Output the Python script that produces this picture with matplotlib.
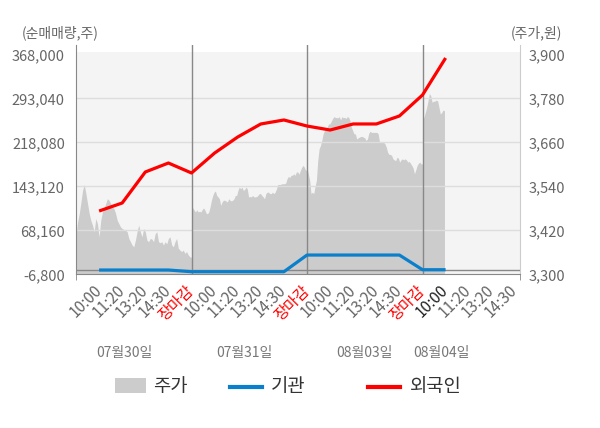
import numpy as np
import matplotlib
matplotlib.use("Agg")
import matplotlib.pyplot as plt
from matplotlib.patches import Rectangle
from matplotlib.lines import Line2D

plt.rcParams['font.family'] = ['Noto Sans CJK KR', 'DejaVu Sans']

# ---------------- data ----------------
day_labels = ['07월30일', '07월31일', '08월03일', '08월04일']
day_label_pos = [2.1, 7.3, 12.5, 15.8]
tick_times = ['10:00', '11:20', '13:20', '14:30', '장마감']

left_ticks = [-6800, 68160, 143120, 218080, 293040, 368000]
right_ticks = [3300, 3420, 3540, 3660, 3780, 3900]

# price (주가), minute-ish samples per day
price_d1 = [3407, 3443, 3466, 3497, 3529, 3545, 3520, 3493, 3466, 3447, 3434, 3416, 3452, 3438, 3402,
            3447, 3470, 3479, 3493, 3506, 3502, 3493, 3484, 3479, 3466, 3447, 3438, 3429, 3425, 3422,
            3420, 3416, 3398, 3389, 3380, 3375, 3393, 3416, 3434, 3416, 3402, 3425, 3416, 3393, 3389,
            3398, 3396, 3389, 3411, 3416, 3389, 3386, 3389, 3380, 3389, 3383, 3398, 3402, 3380, 3375,
            3389, 3398, 3371, 3366, 3362, 3366, 3357, 3362, 3353, 3348, 3346]
price_d2 = [3485, 3481, 3475, 3470, 3476, 3470, 3472, 3470, 3476, 3481, 3476, 3467, 3465, 3470, 3484,
            3502, 3515, 3524, 3527, 3515, 3511, 3506, 3488, 3497, 3502, 3502, 3500, 3497, 3506, 3502,
            3500, 3502, 3506, 3515, 3515, 3529, 3538, 3533, 3538, 3529, 3531, 3538, 3533, 3511, 3512,
            3511, 3515, 3511, 3511, 3512, 3515, 3520, 3520, 3515, 3511, 3506, 3520, 3524, 3524, 3520,
            3520, 3524, 3520, 3524, 3533, 3545, 3545, 3545, 3547, 3547, 3547, 3549, 3561, 3567, 3564,
            3570, 3570, 3574, 3570, 3579, 3579, 3573, 3583, 3592, 3597, 3592, 3583, 3588]
price_d3 = [3588, 3574, 3556, 3520, 3524, 3520, 3540, 3556, 3610, 3642, 3651, 3665, 3683, 3692, 3696,
            3701, 3710, 3710, 3717, 3724, 3730, 3728, 3727, 3727, 3730, 3721, 3730, 3727, 3728, 3725,
            3730, 3728, 3719, 3701, 3692, 3683, 3683, 3669, 3672, 3674, 3676, 3676, 3674, 3672, 3665,
            3669, 3685, 3690, 3687, 3687, 3687, 3687, 3687, 3683, 3660, 3660, 3660, 3660, 3656, 3647,
            3633, 3627, 3627, 3624, 3615, 3612, 3610, 3619, 3617, 3606, 3612, 3615, 3612, 3615, 3612,
            3606, 3608, 3603, 3597, 3590, 3574, 3585, 3597, 3603, 3606, 3601, 3601]
price_d4 = [3724, 3728, 3741, 3755, 3773, 3793, 3787, 3769, 3772, 3772, 3775, 3773, 3755, 3737, 3741,
            3748, 3746]

# cumulative net buying (순매매량)
foreign = [101000, 114700, 167500, 182800, 165800, 199800, 227100, 249300, 256100, 245800,
           239000, 249300, 249300, 262900, 298700, 361700]
institution = [500, 500, 500, 500, -2400, -2400, -2400, -2400, -2400, 26000,
               26000, 26000, 26000, 26000, 1000, 1000]

# ---------------- layout ----------------
W, H = 600, 428
fig = plt.figure(figsize=(6, 4.28), dpi=100)
ax_left, ax_right_px, ax_bot, ax_top = 76, 520, 274.3, 45
ax = fig.add_axes([ax_left / W, 1 - ax_bot / H, (ax_right_px - ax_left) / W, (ax_bot - ax_top) / H])
ax2 = ax.twinx()
ax.set_zorder(2)
ax2.set_zorder(1)
ax.patch.set_visible(False)

xmax = 19.22
ax.set_xlim(0, xmax)

step_l = (left_ticks[-1] - left_ticks[0]) / 220.0
ytop = left_ticks[0] + (ax_bot - ax_top) * step_l
ax.set_ylim(left_ticks[0], ytop)
r_scale = (right_ticks[-1] - right_ticks[0]) / (left_ticks[-1] - left_ticks[0])
ax2.set_ylim(right_ticks[0], right_ticks[0] + (ytop - left_ticks[0]) * r_scale)

# background
bg_top = right_ticks[0] + (ax_bot - 52) * (right_ticks[-1] - right_ticks[0]) / 220.0
ax2.axhspan(right_ticks[0], bg_top, color='#f4f4f4', lw=0, zorder=0)

# price area
spans = [(0, 5), (5, 10), (10, 15), (15, 15.95)]
for (a, b), p in zip(spans, [price_d1, price_d2, price_d3, price_d4]):
    xs = np.linspace(a, b, len(p))
    ax2.fill_between(xs, right_ticks[0], p, color='#cccccc', lw=0, zorder=1)

# grid lines
for v in left_ticks[1:-1]:
    ax.axhline(v, color='#dddddd', lw=1, zorder=1)
ax.axhline(0, color='#888888', lw=1, zorder=2)
for xv in [5, 10, 15]:
    ax.axvline(xv, color='#888888', lw=1, zorder=2)

# lines
xi = np.arange(1, len(foreign) + 1)
ax.plot(xi, institution, color='#0a7fcc', lw=2.3, zorder=4, solid_capstyle='butt')
ax.plot(xi, foreign, color='#ff0000', lw=2.3, zorder=5, solid_capstyle='butt')

# spines
for a_ in (ax, ax2):
    a_.spines['top'].set_visible(False)
ax.spines['left'].set_color('#888888')
ax.spines['bottom'].set_color('#888888')
ax.spines['right'].set_visible(False)
ax2.spines['left'].set_visible(False)
ax2.spines['bottom'].set_visible(False)
ax2.spines['right'].set_color('#cccccc')

# y ticks
ax.set_yticks(left_ticks, [f'{v:,}' for v in left_ticks])
ax.tick_params(axis='y', length=0, pad=8, labelsize=10.5, labelcolor='#666666')
ax2.set_yticks(right_ticks, [f'{v:,}' for v in right_ticks])
ax2.tick_params(axis='y', length=0, pad=6, labelsize=10.5, labelcolor='#666666')

# x ticks
xt, xl = [], []
for d in range(4):
    names = tick_times if d < 3 else tick_times[:4]
    for k, nm in enumerate(names):
        xt.append(5 * d + k + 1)
        xl.append(nm)
ax.set_xticks(xt, xl, rotation=45, ha='right', rotation_mode='anchor', va='center')
ax.tick_params(axis='x', which='major', length=0, pad=10, labelsize=11, labelcolor='#666666')
ax.set_xticks([0, 5, 10, 15, xmax], minor=True)
ax.tick_params(axis='x', which='minor', length=4, color='#888888')
for lab in ax.get_xticklabels():
    if lab.get_text() == '장마감':
        lab.set_color('#ff0000')
ax.get_xticklabels()[15].set_color('#222222')

# day labels
yfrac = (ax_bot - 353.3) / (ax_bot - ax_top)
for pos, lab in zip(day_label_pos, day_labels):
    ax.text(pos, yfrac, lab, transform=ax.get_xaxis_transform(), ha='center', va='center',
            fontsize=10, color='#777777')

# axis titles
fig.text(22 / W, 1 - 33 / H, '(순매매량,주)', ha='left', va='center', fontsize=10, color='#666666')
fig.text(562 / W, 1 - 33 / H, '(주가,원)', ha='right', va='center', fontsize=10, color='#666666')

# legend
ly = 1 - 386.5 / H
fig.add_artist(Rectangle((114.5 / W, 1 - 392.7 / H), 31 / W, 14.4 / H, transform=fig.transFigure,
                         color='#cccccc', lw=0))
fig.text(153 / W, ly, '주가', ha='left', va='center', fontsize=13.5, color='#333333')
fig.add_artist(Line2D([230 / W, 262 / W], [ly, ly], transform=fig.transFigure, color='#0a7fcc', lw=3))
fig.text(270.5 / W, ly, '기관', ha='left', va='center', fontsize=13.5, color='#333333')
fig.add_artist(Line2D([368 / W, 400 / W], [ly, ly], transform=fig.transFigure, color='#ff0000', lw=3))
fig.text(410 / W, ly, '외국인', ha='left', va='center', fontsize=13.5, color='#333333')

fig.savefig('out.png', dpi=100)
